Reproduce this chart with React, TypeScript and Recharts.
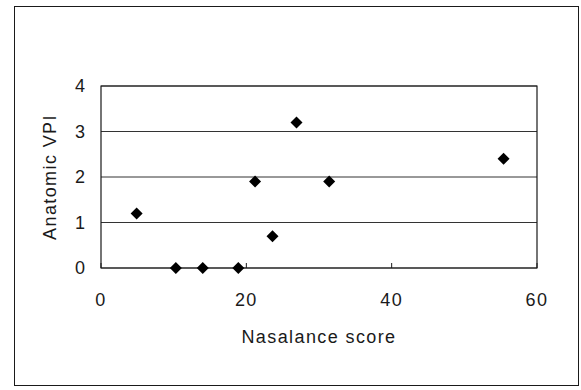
import React from "react";
import {
  ScatterChart, Scatter, XAxis, YAxis, CartesianGrid, ReferenceArea,
} from "recharts";

const INK = "#1a1a1a";
const FONT = "'Liberation Sans', Arial, sans-serif";

// nasalance score vs anatomic VPI
const nasalance = [4.9, 10.3, 14.0, 18.9, 21.2, 23.6, 26.9, 31.4, 55.4];
const vpi = [1.2, 0, 0, 0, 1.9, 0.7, 3.2, 1.9, 2.4];
const xTicks = [0, 20, 40, 60];
const yTicks = [0, 1, 2, 3, 4];

const points = nasalance.map((x, i) => ({ x, y: vpi[i] }));

// filled diamond, centred on the point the scale gives us
const Diamond = (props: any) => {
  const { cx, cy } = props;
  const r = 6;
  return (
    <polygon
      points={`${cx},${cy - r} ${cx + r},${cy} ${cx},${cy + r} ${cx - r},${cy}`}
      fill="#000"
    />
  );
};

export default function App() {
  return (
    <div style={{ position: "absolute", left: 0, top: 0, width: 581, height: 390, background: "#fff" }}>
      {/* outer chart frame */}
      <div style={{ position: "absolute", left: 14, top: 6, width: 563, height: 378,
        border: `1.5px solid ${INK}` }} />
      <div style={{ position: "absolute", left: 0, top: 0 }}>
        <ScatterChart width={581} height={390}
          margin={{ top: 86, right: 44, bottom: 82, left: 31 }}
          style={{ fontFamily: FONT }}>
          <CartesianGrid vertical={false} stroke="#333" strokeWidth={1} />
          <ReferenceArea x1={0} x2={60} y1={0} y2={4} fill="none"
            stroke={INK} strokeWidth={1.2} ifOverflow="visible" />
          <XAxis type="number" dataKey="x" domain={[0, 60]} ticks={xTicks}
            height={40} axisLine={false} tickSize={-5} tickMargin={30}
            tickLine={{ stroke: INK }}
            tick={{ fill: INK, fontSize: 18, fontFamily: FONT, letterSpacing: 1.4 }}
            label={{ value: "Nasalance score", position: "bottom", offset: 22,
              fill: INK, fontSize: 18, fontFamily: FONT, letterSpacing: 1.4 }} />
          <YAxis type="number" dataKey="y" domain={[0, 4]} ticks={yTicks}
            width={70} axisLine={false} tickLine={false} tickSize={0} tickMargin={16}
            tick={{ fill: INK, fontSize: 18, fontFamily: FONT }}
            label={{ value: "Anatomic VPI", angle: -90, position: "insideLeft", offset: 19,
              fill: INK, fontSize: 18, fontFamily: FONT, letterSpacing: 1.4,
              style: { textAnchor: "middle" } }} />
          <Scatter data={points} shape={<Diamond />} isAnimationActive={false} />
        </ScatterChart>
      </div>
    </div>
  );
}
